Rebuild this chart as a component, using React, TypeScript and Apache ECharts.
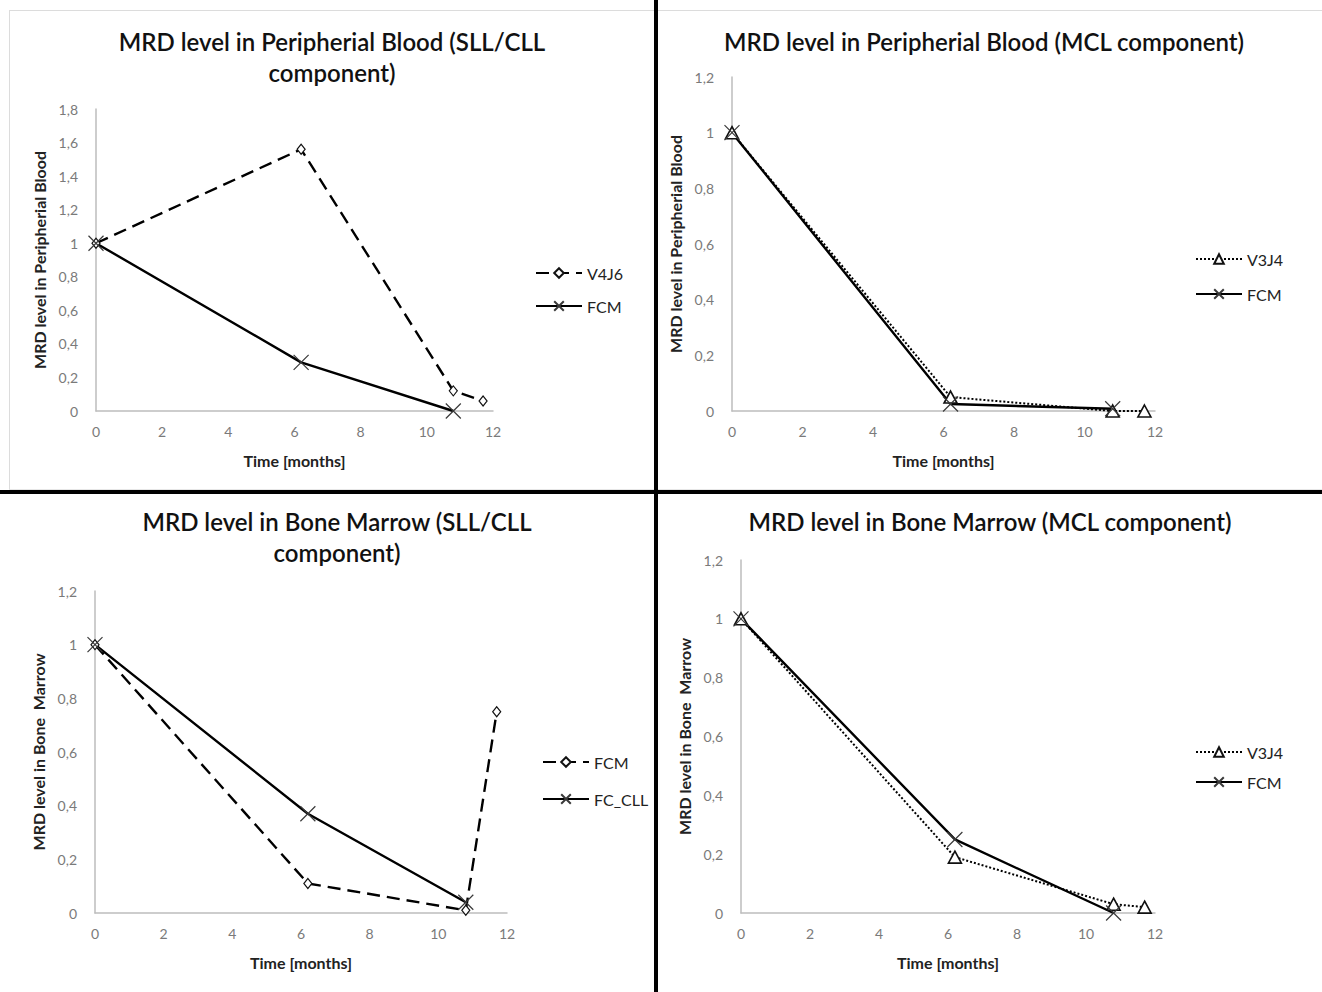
import React, { useEffect, useRef } from "react";
import * as echarts from "echarts";

// ---------- data ----------
const months = [0, 6.2, 10.8, 11.7];
const fcmMonths = [0, 6.2, 10.8];
const xTicks = [0, 2, 4, 6, 8, 10, 12];

// Peripheral blood, SLL/CLL component
const pbSllV4J6 = [1, 1.56, 0.12, 0.06];
const pbSllFcm = [1, 0.29, 0];
// Peripheral blood, MCL component
const pbMclV3J4 = [1, 0.05, 0.0, 0.0];
const pbMclFcm = [1, 0.025, 0.008];
// Bone marrow, SLL/CLL component
const bmSllFcm = [1, 0.11, 0.01, 0.75];
const bmSllFcCll = [1, 0.37, 0.04];
// Bone marrow, MCL component
const bmMclV3J4 = [1, 0.19, 0.03, 0.02];
const bmMclFcm = [1, 0.25, 0];

const titles = [
  "MRD level in Peripherial Blood (SLL/CLL\ncomponent)",
  "MRD level in Peripherial Blood (MCL component)",
  "MRD level in Bone Marrow (SLL/CLL\ncomponent)",
  "MRD level in Bone Marrow (MCL component)",
];
const yNames = [
  "MRD level in Peripherial Blood",
  "MRD level in Peripherial Blood",
  "MRD level in Bone  Marrow",
  "MRD level in Bone  Marrow",
];

const FONT = "Lato, 'Open Sans', sans-serif";
const CROSS = "path://M0,0L10,10M10,0L0,10";

const pairs = (xs: number[], ys: number[]) => ys.map((y, i) => [xs[i], y]);

type Kind = "dash" | "solid" | "dot";
type Mark = "diamond" | "cross" | "triangle";

function makeSeries(name: string, xs: number[], ys: number[], kind: Kind, mark: Mark) {
  const lineType = kind === "dash" ? [13, 7] : kind === "dot" ? [2, 2] : "solid";
  const width = kind === "dot" ? 2 : 2.4;
  let symbol: string = mark;
  let symbolSize: any = 12;
  let itemStyle: any = { color: "#fff", borderColor: "#111", borderWidth: 1.2 };
  if (mark === "diamond") symbolSize = [8, 10];
  if (mark === "triangle") {
    symbolSize = [13, 12];
    itemStyle = { color: "#fff", borderColor: "#111", borderWidth: 1.6 };
  }
  if (mark === "cross") {
    symbol = CROSS;
    symbolSize = 15;
    itemStyle = { color: "none", borderColor: "#3a3a3a", borderWidth: 1.2 };
  }
  return {
    type: "line",
    name,
    data: pairs(xs, ys),
    symbol,
    symbolSize,
    showAllSymbol: true,
    itemStyle,
    lineStyle: { color: "#000", width, type: lineType },
    emphasis: { disabled: true },
  };
}

interface PanelCfg {
  box: { left: number; top: number; width: number; height: number };
  grid: { left: number; top: number; width: number; height: number };
  yMax: number;
  title: string;
  titleX: number;
  titleY: number;
  yName: string;
  yNameGap: number;
  legend: { left: number; top: number; gap: number };
  series: any[];
}

const fmt = (v: number) => String(Math.round(v * 10) / 10).replace(".", ",");

function buildOption(c: PanelCfg) {
  return {
    animation: false,
    textStyle: { fontFamily: FONT },
    grid: { ...c.grid, containLabel: false },
    graphic: [
      {
        type: "text",
        x: c.titleX,
        y: c.titleY,
        style: {
          text: c.title,
          font: `600 24px ${FONT}`,
          fill: "#111",
          textAlign: "center",
          textVerticalAlign: "top",
          lineHeight: 31,
        },
      },
    ],
    legend: {
      orient: "vertical",
      left: c.legend.left,
      top: c.legend.top,
      itemWidth: 46,
      itemHeight: 12,
      itemGap: c.legend.gap,
      textStyle: { fontFamily: FONT, fontSize: 16, color: "#222" },
      data: c.series.map((s) => s.name),
      selectedMode: false,
    },
    xAxis: {
      type: "value",
      min: 0,
      max: 12,
      interval: 2,
      name: "Time [months]",
      nameLocation: "middle",
      nameGap: 41,
      nameTextStyle: { fontFamily: FONT, fontSize: 16, fontWeight: "bold", color: "#222" },
      axisLine: { show: true, lineStyle: { color: "#bdbdbd", width: 1.5 } },
      axisTick: { show: false },
      splitLine: { show: false },
      axisLabel: {
        color: "#7a7a7a",
        fontSize: 14,
        margin: 13,
        formatter: (v: number) => (xTicks.includes(v) ? String(v) : ""),
      },
    },
    yAxis: {
      type: "value",
      min: 0,
      max: c.yMax,
      interval: 0.2,
      name: c.yName,
      nameLocation: "middle",
      nameGap: c.yNameGap,
      nameRotate: 90,
      nameTextStyle: { fontFamily: FONT, fontSize: 16, fontWeight: "bold", color: "#222" },
      axisLine: { show: true, lineStyle: { color: "#bdbdbd", width: 1.5 } },
      axisTick: { show: false },
      splitLine: { show: false },
      axisLabel: { color: "#7a7a7a", fontSize: 14, margin: 18, formatter: fmt },
    },
    series: c.series,
  };
}

const panels: PanelCfg[] = [
  {
    box: { left: 0, top: 0, width: 654, height: 490 },
    grid: { left: 96, top: 109, width: 397, height: 302 },
    yMax: 1.8,
    title: titles[0],
    titleX: 332,
    titleY: 26,
    yName: yNames[0],
    yNameGap: 45,
    legend: { left: 530, top: 260, gap: 17 },
    series: [
      makeSeries("V4J6", months, pbSllV4J6, "dash", "diamond"),
      makeSeries("FCM", fcmMonths, pbSllFcm, "solid", "cross"),
    ],
  },
  {
    box: { left: 658, top: 0, width: 664, height: 490 },
    grid: { left: 74, top: 77, width: 423, height: 334 },
    yMax: 1.2,
    title: titles[1],
    titleX: 326,
    titleY: 26,
    yName: yNames[1],
    yNameGap: 43,
    legend: { left: 532, top: 246, gap: 19 },
    series: [
      makeSeries("V3J4", months, pbMclV3J4, "dot", "triangle"),
      makeSeries("FCM", fcmMonths, pbMclFcm, "solid", "cross"),
    ],
  },
  {
    box: { left: 0, top: 494, width: 654, height: 498 },
    grid: { left: 95, top: 97, width: 412, height: 322 },
    yMax: 1.2,
    title: titles[2],
    titleX: 337,
    titleY: 12,
    yName: yNames[2],
    yNameGap: 45,
    legend: { left: 537, top: 255, gap: 21 },
    series: [
      makeSeries("FCM", months, bmSllFcm, "dash", "diamond"),
      makeSeries("FC_CLL", fcmMonths, bmSllFcCll, "solid", "cross"),
    ],
  },
  {
    box: { left: 658, top: 494, width: 664, height: 498 },
    grid: { left: 83, top: 66, width: 414, height: 353 },
    yMax: 1.2,
    title: titles[3],
    titleX: 332,
    titleY: 12,
    yName: yNames[3],
    yNameGap: 43,
    legend: { left: 532, top: 245, gap: 14 },
    series: [
      makeSeries("V3J4", months, bmMclV3J4, "dot", "triangle"),
      makeSeries("FCM", fcmMonths, bmMclFcm, "solid", "cross"),
    ],
  },
];

function Panel({ cfg }: { cfg: PanelCfg }) {
  const ref = useRef<HTMLDivElement>(null);
  useEffect(() => {
    if (!ref.current) return;
    const chart = echarts.init(ref.current, undefined, { renderer: "svg" });
    chart.setOption(buildOption(cfg) as any);
    return () => chart.dispose();
  }, [cfg]);
  return (
    <div
      ref={ref}
      style={{
        position: "absolute",
        left: cfg.box.left,
        top: cfg.box.top,
        width: cfg.box.width,
        height: cfg.box.height,
      }}
    />
  );
}

export default function App() {
  return (
    <div
      style={{
        position: "absolute",
        left: 0,
        top: 0,
        width: 1322,
        height: 992,
        background: "#fff",
        overflow: "hidden",
      }}
    >
      {/* light chart-area borders */}
      <div
        style={{
          position: "absolute",
          left: 9,
          top: 10,
          width: 1320,
          height: 478,
          borderLeft: "1px solid #dcdcdc",
          borderTop: "1px solid #dcdcdc",
          borderBottom: "1px solid #e6e6e6",
        }}
      />
      {panels.map((p, i) => (
        <Panel key={i} cfg={p} />
      ))}
      <div
        style={{ position: "absolute", left: 654, top: 0, width: 4, height: 992, background: "#000" }}
      />
      <div
        style={{ position: "absolute", left: 0, top: 490, width: 1322, height: 4, background: "#000" }}
      />
    </div>
  );
}
